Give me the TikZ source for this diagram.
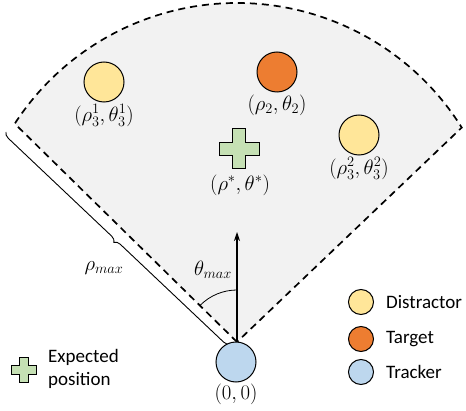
\documentclass[tikz,border=0pt]{standalone}
\usepackage{amsmath}
\usepackage{fontspec}
\setmainfont{Carlito}
\usepackage{tikz}
\usetikzlibrary{positioning,arrows.meta,decorations.pathreplacing,calc}
\definecolor{distractorfill}{HTML}{FFE699}
\definecolor{targetfill}{HTML}{ED7D31}
\definecolor{trackerfill}{HTML}{BDD7EE}
\definecolor{expectfill}{HTML}{C5E0B4}
\definecolor{sectorfill}{HTML}{F2F2F2}

\begin{document}
\begin{tikzpicture}[x=1pt, y=1pt,
    blob/.style={circle, draw=black, line width=1pt, minimum size=40pt, inner sep=0pt},
    keyblob/.style={blob, minimum size=25pt},
    coord/.style={font=\fontsize{21.5}{24}\selectfont, inner sep=1pt},
    keytext/.style={font=\fontsize{19}{23}\selectfont, anchor=west, align=left, inner sep=0pt},
    pics/plusmark/.style={code={
      \draw[fill=expectfill, line width=1pt]
        (-#1/3,-#1) -- (#1/3,-#1) -- (#1/3,-#1/3) -- (#1,-#1/3) -- (#1,#1/3) -- (#1/3,#1/3)
        -- (#1/3,#1) -- (-#1/3,#1) -- (-#1/3,#1/3) -- (-#1,#1/3) -- (-#1,-#1/3) -- (-#1/3,-#1/3) -- cycle;
    }}]
  \useasboundingbox (0,0) rectangle (466,410);

  % Field of view sector
  \coordinate (apex) at (237,68);
  \coordinate (arccentre) at (237,142);
  \draw[fill=sectorfill, dashed, dash pattern=on 7pt off 5pt, line width=1.7pt]
    (apex) -- ($(arccentre)+(147:265)$) arc (147:32:265) -- cycle;

  % Heading arrow and angle
  \coordinate (heading) at (237,178);
  \draw[-{Stealth[length=9pt,width=6pt]}, line width=1.1pt] (apex) -- (heading);
  \draw[line width=0.8pt] ($(apex)+(90:52)$) arc (90:135:52);
  \node[coord] (thetamax) at (213,140) {$\theta_{max}$};

  % Range brace
  \coordinate (braceB) at (230,66);
  \coordinate (braceL) at (6,278);
  \draw[line width=0.9pt, decorate, decoration={brace, amplitude=6pt}] (braceB) -- (braceL);
  \node[coord] (rhomax) at (104,142) {$\rho_{max}$};

  % Objects
  \node[blob, fill=distractorfill] (dist1) at (104,328) {};
  \node[coord, below=1pt of dist1] (dist1lab) {$(\rho_3^1,\theta_3^1)$};
  \node[blob, fill=targetfill] (target) at (277,338) {};
  \node[coord, below=1pt of target] (targetlab) {$(\rho_2,\theta_2)$};
  \node[blob, fill=distractorfill] (dist2) at (359,275) {};
  \node[coord, below=1pt of dist2] (dist2lab) {$(\rho_3^2,\theta_3^2)$};
  \pic (expect) at (239,261) {plusmark=20};
  \node[coord] (expectlab) at (240,225) {$(\rho^*,\theta^*)$};

  % Tracker
  \node[blob, fill=trackerfill] (tracker) at (236,48) {};
  \node[coord, below=0pt of tracker] (trackerlab) {$(0,0)$};

  % Legend
  \node[keyblob, fill=distractorfill] (keydist) at (361,108) {};
  \node[keytext, right=12pt of keydist] {Distractor};
  \node[keyblob, fill=targetfill] (keytarget) at (361,71) {};
  \node[keytext, right=12pt of keytarget] {Target};
  \node[keyblob, fill=trackerfill] (keytracker) at (361,38) {};
  \node[keytext, right=12pt of keytracker] {Tracker};
  \pic (keyexpect) at (24,40) {plusmark=12.5};
  \node[keytext] (keyexpectlab) at (48,41) {Expected\\position};
\end{tikzpicture}
\end{document}
